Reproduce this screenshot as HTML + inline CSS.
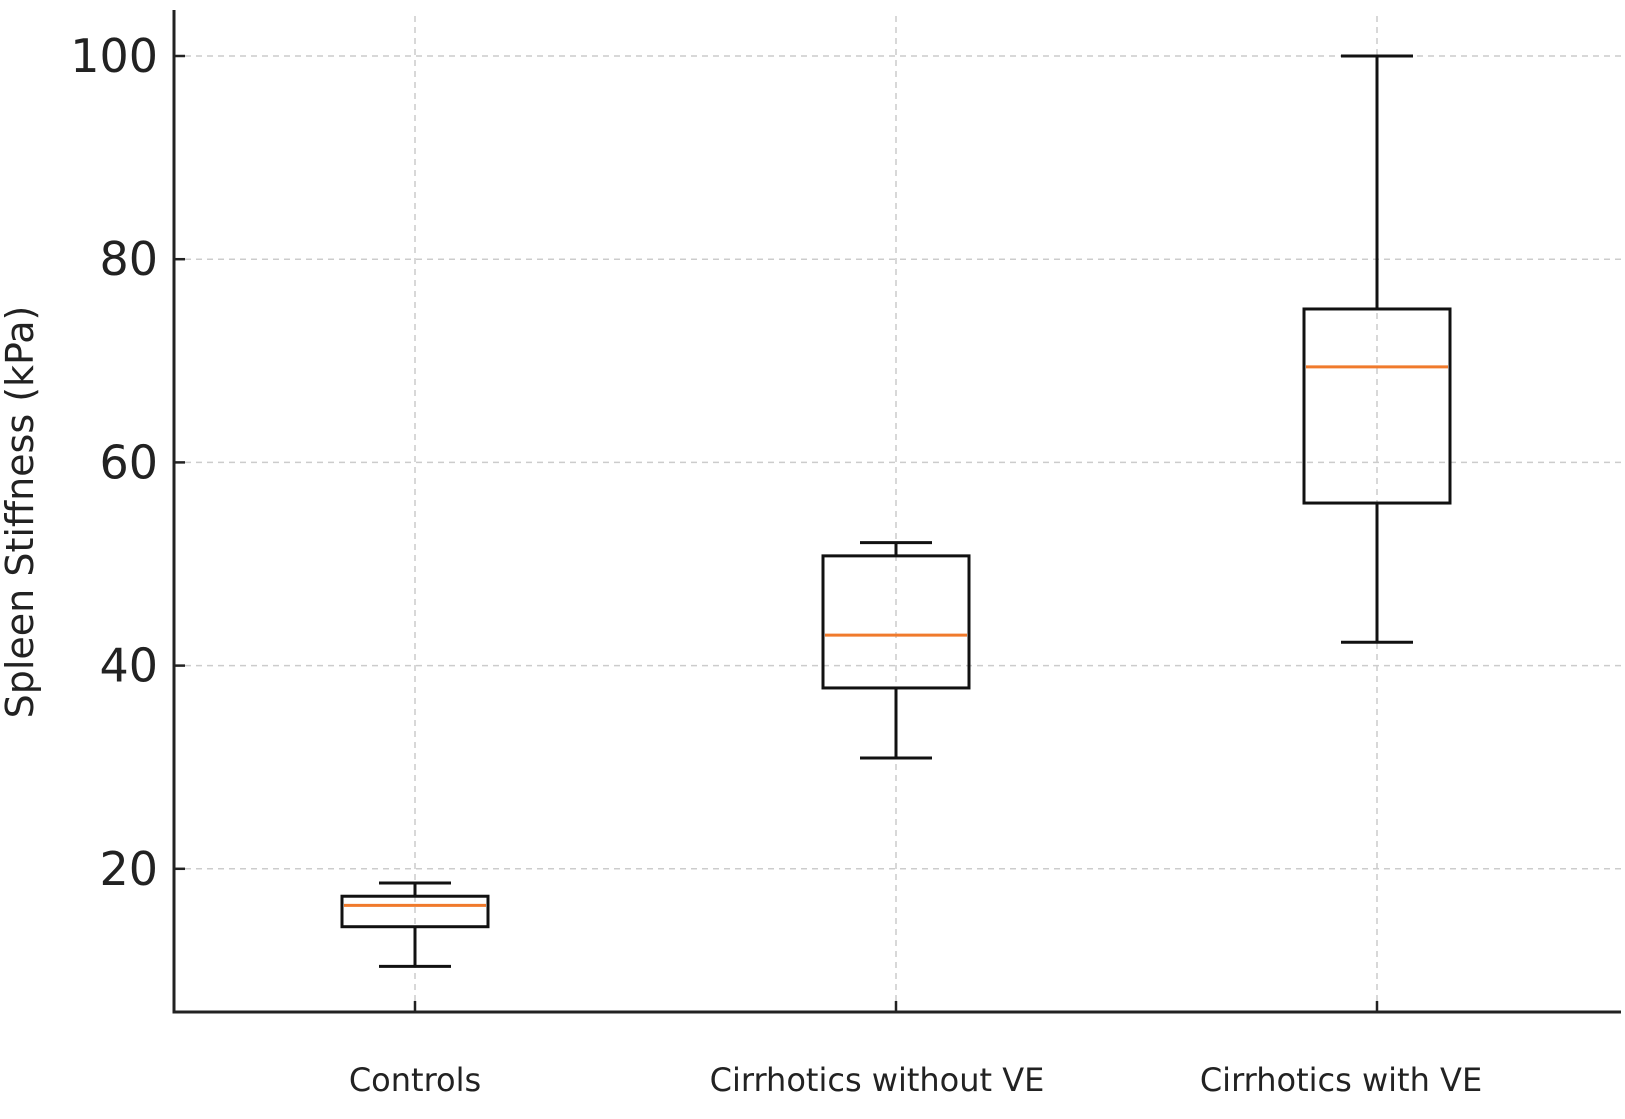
<!DOCTYPE html>
<html><head><meta charset="utf-8"><style>
body{margin:0;background:#fff}
svg text{font-family:"DejaVu Sans","Liberation Sans",sans-serif;fill:#222}
</style></head><body>
<svg id="chart" width="1625" height="1114" xmlns="http://www.w3.org/2000/svg"></svg>
<script>
const categories=["Controls","Cirrhotics without VE","Cirrhotics with VE"];
const whiskLow=[10.4,30.9,42.3];
const q1=[14.3,37.8,56.0];
const median=[16.4,43.0,69.4];
const q3=[17.3,50.8,75.1];
const whiskHigh=[18.6,52.1,100];
const yTicks=[20,40,60,80,100];
const labelShift=[0,-19,-36];

const svg=document.getElementById('chart');
const NS="http://www.w3.org/2000/svg";
const L=174,R=1621,T=10,B=1012;
const y=v=>56+(100-v)*10.16;
const x=i=>415+i*481;
function mk(tag,attrs,parent){const e=document.createElementNS(NS,tag);for(const k in attrs)e.setAttribute(k,attrs[k]);(parent||svg).appendChild(e);return e;}

yTicks.forEach(v=>{
  const g=mk('line',{x1:L,x2:R,y1:y(v),y2:y(v),stroke:'#ccc','stroke-width':1.5,'stroke-dasharray':'6 5'});
  
  
  const t=mk('line',{x1:L,x2:L+11,y1:y(v),y2:y(v),stroke:'#222','stroke-width':2.5});
  
  
  const l=mk('text',{x:L-16,y:y(v)+16,'text-anchor':'end','font-size':46});
  l.textContent=v;
  
  
});
categories.forEach((c,i)=>{
  const g=mk('line',{x1:x(i),x2:x(i),y1:T+6,y2:B,stroke:'#ccc','stroke-width':1.5,'stroke-dasharray':'6 5'});
  
  
  const t=mk('line',{x1:x(i),x2:x(i),y1:B-11,y2:B,stroke:'#222','stroke-width':2.5});
  
  
  const l=mk('text',{x:x(i)+labelShift[i],y:1091,'text-anchor':'middle','font-size':32});
  l.textContent=c;
  
  
});
const ax=mk('path',{d:`M${L},${T}V${B}H${R}`,stroke:'#222','stroke-width':3,fill:'none'});


const yl=mk('text',{x:0,y:0,'text-anchor':'middle','font-size':38,transform:`translate(33,512) rotate(-90)`});
yl.textContent="Spleen Stiffness (kPa)";



categories.forEach((c,i)=>{
  const g=mk('g',{});
  
  
  const cx=x(i),s={stroke:'#111','stroke-width':3,fill:'none'};
  mk('line',{x1:cx,x2:cx,y1:y(whiskLow[i]),y2:y(q1[i]),...s},g);
  mk('line',{x1:cx,x2:cx,y1:y(q3[i]),y2:y(whiskHigh[i]),...s},g);
  mk('line',{x1:cx-36,x2:cx+36,y1:y(whiskLow[i]),y2:y(whiskLow[i]),...s},g);
  mk('line',{x1:cx-36,x2:cx+36,y1:y(whiskHigh[i]),y2:y(whiskHigh[i]),...s},g);
  mk('rect',{x:cx-73,y:y(q3[i]),width:146,height:y(q1[i])-y(q3[i]),...s},g);
  mk('line',{x1:cx-71,x2:cx+71,y1:y(median[i]),y2:y(median[i]),stroke:'#f07a2c','stroke-width':3},g);
});
</script>
</body></html>
